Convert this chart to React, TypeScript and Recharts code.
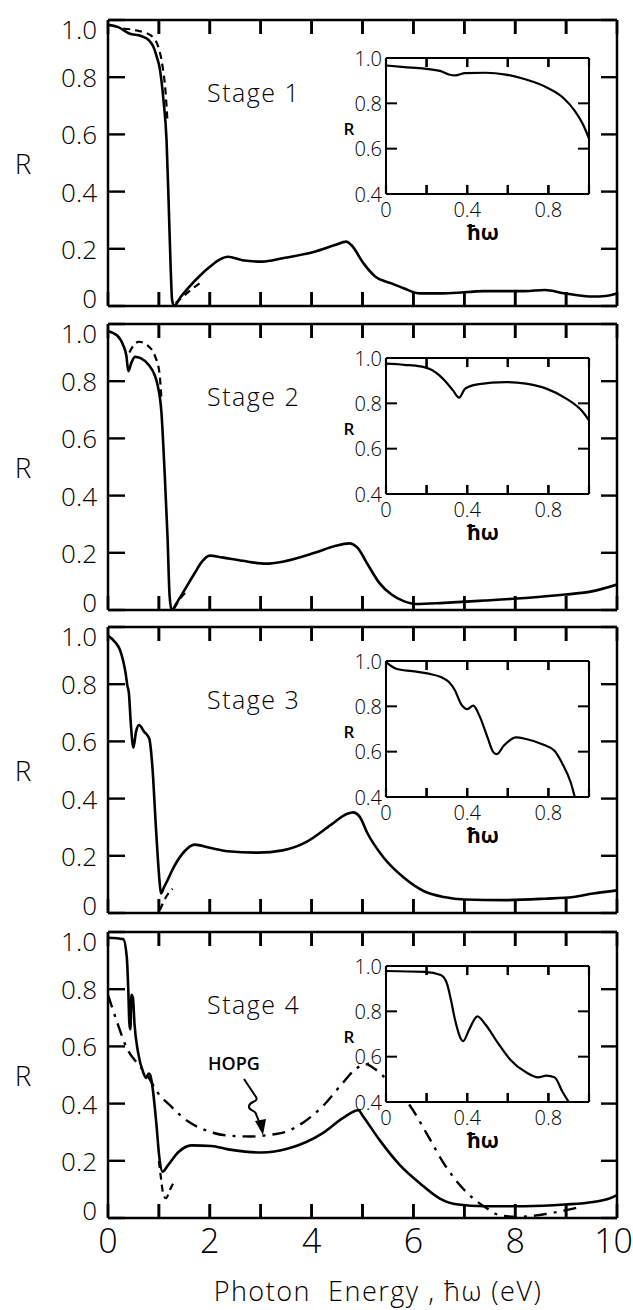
import { CartesianGrid, Line, LineChart, ReferenceLine, XAxis, YAxis } from 'recharts';

type Pt = { e: number; r: number | null };
const pts = (rows: (number | null)[][]): Pt[] => rows.map(([e, r]) => ({ e: e as number, r }));

// ---- main panels: photon energy (eV) vs reflectance R ----
const stage1Solid = pts([
  [0, 0.983], [0.2, 0.975], [0.42, 0.953], [0.65, 0.944], [0.8, 0.93], [0.89, 0.907], [0.96, 0.87],
  [1.01, 0.837], [1.09, 0.72], [1.15, 0.58], [1.19, 0.37], [1.23, 0.14], [1.26, 0.02], [1.3, 0.0],
  [1.42, 0.03], [1.6, 0.068], [1.8, 0.105], [2.0, 0.137], [2.2, 0.163], [2.36, 0.172], [2.64, 0.16],
  [3.03, 0.155], [3.43, 0.167], [4.06, 0.19], [4.46, 0.213], [4.68, 0.225], [4.78, 0.213], [5.02, 0.149],
  [5.25, 0.103], [5.57, 0.079], [5.81, 0.062], [6.13, 0.044], [6.6, 0.044], [7.4, 0.052], [8.19, 0.052],
  [8.58, 0.056], [8.98, 0.044], [9.53, 0.033], [9.77, 0.035], [10, 0.044],
]);
const stage1Dashed = pts([
  [0.3, 0.97], [0.6, 0.962], [0.85, 0.945], [0.98, 0.91], [1.07, 0.84], [1.13, 0.75], [1.17, 0.64],
  [1.25, null], [1.33, 0.01], [1.55, 0.045], [1.84, 0.085],
]);

const stage2Solid = pts([
  [0, 0.975], [0.18, 0.96], [0.3, 0.925], [0.36, 0.89], [0.4, 0.835], [0.46, 0.865], [0.53, 0.885],
  [0.65, 0.88], [0.81, 0.855], [0.92, 0.82], [0.97, 0.79], [1.05, 0.69], [1.11, 0.49], [1.17, 0.254],
  [1.21, 0.05], [1.25, 0.0], [1.35, 0.025], [1.45, 0.054], [1.69, 0.125], [1.85, 0.17], [2.0, 0.19],
  [2.24, 0.184], [2.64, 0.172], [3.11, 0.162], [3.43, 0.169], [4.06, 0.2], [4.46, 0.224], [4.74, 0.233],
  [4.9, 0.218], [5.1, 0.16], [5.33, 0.095], [5.57, 0.054], [5.81, 0.031], [6.05, 0.021], [6.6, 0.025],
  [7.4, 0.033], [8.19, 0.042], [8.98, 0.054], [9.53, 0.066], [10, 0.089],
]);
const stage2Dashed = pts([
  [0.42, 0.9], [0.5, 0.925], [0.61, 0.938], [0.77, 0.926], [0.93, 0.885], [1.01, 0.83], [1.05, 0.74],
  [1.2, null], [1.3, 0.005], [1.42, 0.04], [1.52, 0.06],
]);

const stage3Solid = pts([
  [0, 0.97], [0.15, 0.945], [0.23, 0.922], [0.3, 0.88], [0.35, 0.834], [0.38, 0.795], [0.41, 0.77],
  [0.45, 0.657], [0.5, 0.578], [0.55, 0.634], [0.61, 0.657], [0.71, 0.634], [0.81, 0.61], [0.87, 0.516],
  [0.94, 0.304], [1.01, 0.116], [1.04, 0.068], [1.1, 0.09], [1.14, 0.104], [1.3, 0.163], [1.5, 0.215],
  [1.7, 0.239], [2.0, 0.228], [2.35, 0.216], [2.95, 0.211], [3.43, 0.219], [3.9, 0.249], [4.38, 0.308],
  [4.7, 0.347], [4.82, 0.352], [4.94, 0.338], [5.1, 0.278], [5.41, 0.195], [5.81, 0.124], [6.2, 0.077],
  [6.6, 0.056], [7.0, 0.047], [7.79, 0.045], [8.58, 0.05], [9.14, 0.056], [9.53, 0.068], [10, 0.079],
]);
const stage3Dashed = pts([[1.02, 0.01], [1.14, 0.056], [1.27, 0.085]]);

const stage4Solid = pts([
  [0, 0.98], [0.3, 0.975], [0.37, 0.91], [0.4, 0.79], [0.42, 0.68], [0.44, 0.66], [0.46, 0.78],
  [0.49, 0.77], [0.52, 0.68], [0.59, 0.58], [0.69, 0.51], [0.75, 0.49], [0.8, 0.505], [0.83, 0.5],
  [0.88, 0.45], [0.95, 0.33], [1.01, 0.21], [1.07, 0.162], [1.18, 0.185], [1.38, 0.23], [1.64, 0.254],
  [2.03, 0.252], [2.36, 0.24], [2.69, 0.232], [3.02, 0.229], [3.54, 0.243], [4.22, 0.297], [4.62, 0.35],
  [4.92, 0.377], [5.01, 0.356], [5.33, 0.274], [5.73, 0.186], [6.13, 0.121], [6.52, 0.068], [6.84, 0.048],
  [7.4, 0.041], [8.19, 0.041], [8.98, 0.047], [9.53, 0.056], [9.85, 0.068], [10, 0.08],
]);
const stage4Dashed = pts([[1.0, 0.2], [1.04, 0.14], [1.09, 0.08], [1.14, 0.069], [1.22, 0.1], [1.3, 0.127]]);
const hopg = pts([
  [0, 0.78], [0.15, 0.7], [0.38, 0.59], [0.58, 0.54], [0.78, 0.496], [0.97, 0.44], [1.24, 0.39],
  [1.57, 0.338], [1.9, 0.308], [2.36, 0.288], [2.82, 0.285], [3.14, 0.29], [3.47, 0.3], [3.83, 0.333],
  [4.22, 0.391], [4.62, 0.474], [4.86, 0.52], [5.06, 0.538], [5.25, 0.52], [5.5, 0.48], [5.7, 0.44],
  [5.89, 0.403], [6.29, 0.286], [6.6, 0.19], [7.0, 0.098], [7.4, 0.039], [7.71, 0.009], [8.03, 0.004],
  [8.42, 0.009], [8.82, 0.021], [9.14, 0.033], [9.3, 0.04],
]);

// ---- insets: low-energy region ----
const inset1 = pts([
  [0, 0.967], [0.09, 0.96], [0.19, 0.953], [0.27, 0.942], [0.31, 0.927], [0.34, 0.923], [0.39, 0.933],
  [0.49, 0.935], [0.59, 0.927], [0.69, 0.905], [0.79, 0.871], [0.87, 0.827], [0.93, 0.767], [0.97, 0.708],
  [1.0, 0.645],
]);
const inset2 = pts([
  [0, 0.975], [0.09, 0.97], [0.17, 0.963], [0.23, 0.945], [0.29, 0.9], [0.33, 0.857], [0.36, 0.825],
  [0.39, 0.865], [0.45, 0.884], [0.59, 0.894], [0.69, 0.887], [0.79, 0.865], [0.89, 0.82], [0.97, 0.762],
  [1.0, 0.725],
]);
const inset3 = pts([
  [0, 0.995], [0.05, 0.966], [0.13, 0.955], [0.21, 0.944], [0.27, 0.929], [0.31, 0.907], [0.34, 0.87],
  [0.37, 0.81], [0.4, 0.788], [0.43, 0.803], [0.46, 0.759], [0.5, 0.663], [0.53, 0.596], [0.546, 0.589],
  [0.58, 0.626], [0.64, 0.663], [0.69, 0.656], [0.77, 0.633], [0.83, 0.604], [0.87, 0.545], [0.91, 0.464],
  [0.93, 0.4],
]);
const inset4 = pts([
  [0, 0.978], [0.19, 0.974], [0.27, 0.96], [0.3, 0.923], [0.32, 0.85], [0.34, 0.763], [0.38, 0.669],
  [0.41, 0.72], [0.45, 0.778], [0.49, 0.742], [0.55, 0.662], [0.61, 0.589], [0.69, 0.531], [0.75, 0.509],
  [0.79, 0.516], [0.83, 0.509], [0.87, 0.444], [0.9, 0.4],
]);

const mainXTicks = [0, 1, 2, 3, 4, 5, 6, 7, 8, 9, 10];
const mainXLabels = [0, 2, 4, 6, 8, 10];
const mainYTicks = [0, 0.2, 0.4, 0.6, 0.8, 1.0];
const insetXTicks = [0, 0.2, 0.4, 0.6, 0.8, 1.0];
const insetXLabels = [0, 0.4, 0.8];
const insetYTicks = [0.4, 0.6, 0.8, 1.0];
const stageNames = ['Stage 1', 'Stage 2', 'Stage 3', 'Stage 4'];

const W = 633;
const PLOT_L = 108;
const PLOT_R = 617;
const PANEL_H = 286;
const panelTops = [20, 324, 627, 932];
const INSET_L = 386;
const INSET_W = 203;
const INSET_H = 136;
const insetTops = [58, 358, 661, 966];

const FONT = '"Open Sans", "Liberation Sans", sans-serif';
const txt = { fontFamily: FONT, fontWeight: 300, fill: '#000' } as const;
const fmt = (v: number) => (v === 0 ? '0' : v.toFixed(1));
const xfmt = (v: number) => (Number.isInteger(v) ? String(v) : v.toFixed(1));

// inward tick marks along x, as short segments on the bottom and top edges
const xTickMarks = (ticks: number[], lo: number, hi: number, len: number, sw: number) =>
  ticks.flatMap((t) => [
    <ReferenceLine key={`b${t}`} xAxisId="b" yAxisId="l" segment={[{ x: t, y: lo }, { x: t, y: lo + len }]}
      stroke="#000" strokeWidth={sw} strokeOpacity={1} ifOverflow="extendDomain" />,
    <ReferenceLine key={`t${t}`} xAxisId="b" yAxisId="l" segment={[{ x: t, y: hi }, { x: t, y: hi - len }]}
      stroke="#000" strokeWidth={sw} strokeOpacity={1} ifOverflow="extendDomain" />,
  ]);

const bottomTick = (len: number, labels: number[] | null, size: number, dy: number, maxV: number, edge: number, sw: number) =>
  (p: any) => {
    const v = p.payload.value;
    const atEdge = v === maxV && edge > 0;
    return (
      <g>
        <path d={`M${p.x},${p.y}v${-len}`} stroke="#000" strokeWidth={sw} fill="none" />
        {labels && labels.includes(v) && (
          <text x={atEdge ? edge : p.x} y={p.y + dy} textAnchor={atEdge ? 'end' : 'middle'} dominantBaseline="central"
            fontSize={size} style={txt}>
            {xfmt(v)}
          </text>
        )}
      </g>
    );
  };
const topTick = (len: number, sw: number) => (p: any) => (
  <path d={`M${p.x},${p.y}v${len}`} stroke="#000" strokeWidth={sw} fill="none" />
);
const leftTick = (len: number, size: number, gap: number, sw: number, lo: number, hi: number, sLo: number, sHi: number) =>
  (p: any) => {
    const v = p.payload.value;
    const dy = v === lo ? -sLo : v === hi ? sHi : 0;
    return (
      <g>
        <line x1={p.x} y1={p.y} x2={p.x + len} y2={p.y} stroke="#000" strokeWidth={sw} />
        <text x={p.x - gap} y={p.y + dy} textAnchor="end" dominantBaseline="central" fontSize={size} style={txt}>
          {fmt(v)}
        </text>
      </g>
    );
  };
const rightTick = (len: number, sw: number) => (p: any) => (
  <line x1={p.x} y1={p.y} x2={p.x - len} y2={p.y} stroke="#000" strokeWidth={sw} />
);

function MainPanel({ top, solid, dashed, extra, showX }: { top: number; solid: Pt[]; dashed: Pt[]; extra?: Pt[]; showX: boolean }) {
  const mt = 24;
  const mb = showX ? 45 : 24;
  const axisLine = { stroke: '#000', strokeWidth: 2.5 };
  return (
    <div style={{ position: 'absolute', left: 0, top: top - mt - 1 }}>
      <LineChart width={W} height={PANEL_H + mt + mb + 2} margin={{ top: mt, right: 0, bottom: mb, left: 0 }}>
        <XAxis xAxisId="b" dataKey="e" type="number" domain={[0, 10]} ticks={mainXTicks} interval={0} height={1}
          tickSize={0} tickMargin={0} tickLine={false} axisLine={axisLine} allowDataOverflow
          tick={bottomTick(14, showX ? mainXLabels : null, 34, 22, 10, W, 2.6)} />
        <XAxis xAxisId="t" orientation="top" dataKey="e" type="number" domain={[0, 10]} ticks={mainXTicks} interval={0}
          height={1} tickSize={0} tickMargin={0} tickLine={false} axisLine={axisLine} allowDataOverflow tick={topTick(14, 2.6)} />
        <YAxis yAxisId="l" type="number" domain={[0, 1]} ticks={mainYTicks} interval={0} width={PLOT_L}
          tickSize={0} tickMargin={0} tickLine={false} axisLine={axisLine} allowDataOverflow
          tick={leftTick(17, 26, 11, 2.4, 0, 1, 8, 9)} />
        <YAxis yAxisId="r" orientation="right" type="number" domain={[0, 1]} ticks={mainYTicks} interval={0}
          width={W - PLOT_R} tickSize={0} tickMargin={0} tickLine={false} axisLine={axisLine} allowDataOverflow
          tick={rightTick(16, 2.4)} />
        {xTickMarks(mainXTicks.slice(1, -1), 0, 1, 0.049, 2.6)}
        {extra && (
          <Line xAxisId="b" yAxisId="l" data={extra} dataKey="r" type="monotone" stroke="#000" strokeWidth={2.4}
            strokeDasharray="13 7 3 7" dot={false} isAnimationActive={false} />
        )}
        <Line xAxisId="b" yAxisId="l" data={dashed} dataKey="r" type="monotone" stroke="#000" strokeWidth={2.2}
          strokeDasharray="7 5" dot={false} isAnimationActive={false} />
        <Line xAxisId="b" yAxisId="l" data={solid} dataKey="r" type="monotone" stroke="#000" strokeWidth={2.6}
          dot={false} isAnimationActive={false} />
      </LineChart>
    </div>
  );
}

function Inset({ top, data }: { top: number; data: Pt[] }) {
  const ml = 58;
  const mt = 20;
  const mr = 6;
  const mb = 50;
  const axisLine = { stroke: '#000', strokeWidth: 2 };
  return (
    <div style={{ position: 'absolute', left: INSET_L - ml, top: top - mt - 1 }}>
      <LineChart width={ml + INSET_W + mr} height={mt + INSET_H + mb + 2} margin={{ top: mt, right: 0, bottom: mb, left: 0 }}>
        <CartesianGrid xAxisId="b" yAxisId="l" horizontal={false} vertical={false} fill="#fff" />
        <XAxis xAxisId="b" dataKey="e" type="number" domain={[0, 1]} ticks={insetXTicks} interval={0} height={1}
          tickSize={0} tickMargin={0} tickLine={false} axisLine={axisLine} allowDataOverflow
          tick={bottomTick(9, insetXLabels, 20, 15, 1, 0, 2.2)} />
        <XAxis xAxisId="t" orientation="top" dataKey="e" type="number" domain={[0, 1]} ticks={insetXTicks} interval={0}
          height={1} tickSize={0} tickMargin={0} tickLine={false} axisLine={axisLine} allowDataOverflow tick={topTick(9, 2.2)} />
        <YAxis yAxisId="l" type="number" domain={[0.4, 1]} ticks={insetYTicks} interval={0} width={ml}
          tickSize={0} tickMargin={0} tickLine={false} axisLine={axisLine} allowDataOverflow
          tick={leftTick(11, 20, 4, 2, 0.4, 1, 0, 0)} />
        <YAxis yAxisId="r" orientation="right" type="number" domain={[0.4, 1]} ticks={insetYTicks} interval={0}
          width={mr} tickSize={0} tickMargin={0} tickLine={false} axisLine={axisLine} allowDataOverflow tick={rightTick(11, 2)} />
        {xTickMarks(insetXTicks.slice(1, -1), 0.4, 1, 0.04, 2.2)}
        <Line xAxisId="b" yAxisId="l" data={data} dataKey="r" type="monotone" stroke="#000" strokeWidth={2.2}
          dot={false} isAnimationActive={false} />
      </LineChart>
    </div>
  );
}

export default function App() {
  const solids = [stage1Solid, stage2Solid, stage3Solid, stage4Solid];
  const dasheds = [stage1Dashed, stage2Dashed, stage3Dashed, stage4Dashed];
  const insets = [inset1, inset2, inset3, inset4];
  return (
    <div style={{ position: 'absolute', left: 0, top: 0, width: W, height: 1310, background: '#fff', overflow: 'hidden' }}>
      {panelTops.map((t, i) => (
        <MainPanel key={i} top={t} solid={solids[i]} dashed={dasheds[i]} extra={i === 3 ? hopg : undefined} showX={i === 3} />
      ))}
      {insetTops.map((t, i) => (
        <Inset key={i} top={t} data={insets[i]} />
      ))}
      <svg width={W} height={1310} style={{ position: 'absolute', left: 0, top: 0, pointerEvents: 'none' }}>
        {panelTops.map((t, i) => (
          <g key={i}>
            <text x={23} y={t + 143} textAnchor="middle" dominantBaseline="central" fontSize={28} style={txt}>R</text>
            <text x={207} y={t + 72} dominantBaseline="central" fontSize={25} letterSpacing={1.5} style={txt}>{stageNames[i]}</text>
          </g>
        ))}
        {insetTops.map((t, i) => (
          <g key={i}>
            <text x={349} y={t + 70} textAnchor="middle" dominantBaseline="central" fontSize={17} style={{ ...txt, fontWeight: 600 }}>R</text>
            <text x={483} y={t + INSET_H + 38} textAnchor="middle" dominantBaseline="central" fontSize={21} style={{ ...txt, fontWeight: 700 }}>ħω</text>
          </g>
        ))}
        <text x={208} y={1063} dominantBaseline="central" fontSize={18} style={{ ...txt, fontWeight: 600 }}>HOPG</text>
        <path d="M 244 1079 L 256 1097 C 259 1102, 250 1101, 249 1106 C 248 1111, 256 1110, 256 1114 L 260 1124"
          fill="none" stroke="#000" strokeWidth={2} />
        <polygon points="263,1135 255,1121 266,1119" fill="#000" />
        <text x={378} y={1290} textAnchor="middle" dominantBaseline="central" fontSize={27} letterSpacing={1.5}
          style={{ ...txt, whiteSpace: 'pre' }}>
          {'Photon  Energy , ħω (eV)'}
        </text>
      </svg>
    </div>
  );
}
